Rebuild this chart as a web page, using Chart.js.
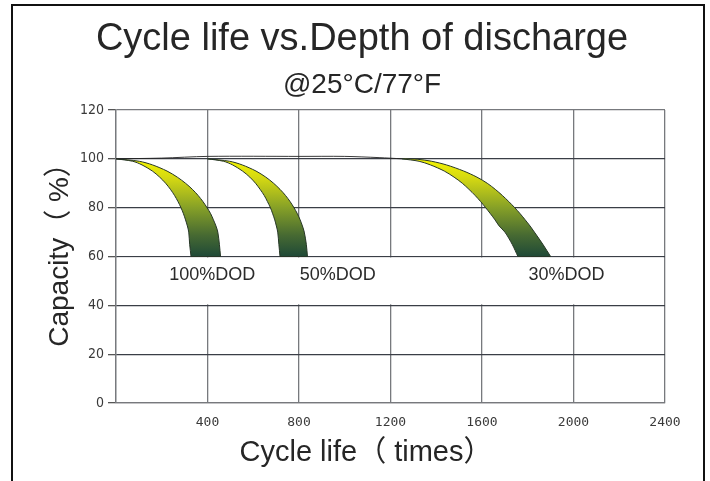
<!DOCTYPE html>
<html><head><meta charset="utf-8">
<script src="https://cdn.jsdelivr.net/npm/chart.js@4.4.1/dist/chart.umd.min.js"></script>
<style>html,body{margin:0;padding:0;background:#fff;}#wrap{width:710px;height:481px;position:relative;}</style>
</head><body><div id="wrap"><canvas id="c" width="710" height="481"></canvas></div>
<script>
// ---- text ----
const titleText = "Cycle life vs.Depth of discharge";
const subtitleText = "@25°C/77°F";
const xAxisTitle = "Cycle life（ times）";
const yAxisTitle = "Capacity（ %）";

// ---- axes ----
const xTickValues = [0, 400, 800, 1200, 1600, 2000, 2400];
const yTickValues = [0, 20, 40, 60, 80, 100, 120];

// ---- band outlines (closed shapes: inner edge top->bottom, then outer edge bottom->top) ----
const dod100Cycles   = [0, 73, 114, 159, 191, 217, 238, 256, 271, 284, 295, 304, 312, 318, 322, 328, 328,
                        392,
                        457, 457, 452, 445, 437, 426, 414, 398, 380, 359, 334, 304, 268, 223, 160, 102, 0];
const dod100Capacity = [100, 99, 97.5, 95, 92.5, 90, 87.5, 85, 82.5, 80, 77.5, 75, 72.5, 70, 65, 60, 60,
                        60,
                        60, 60, 65, 70, 72.5, 75, 77.5, 80, 82.5, 85, 87.5, 90, 92.5, 95, 97.5, 99, 100];

const dod50Cycles    = [400, 470, 510, 553, 585, 610, 630, 648, 662, 675, 685, 694, 701, 707, 712, 717, 717,
                        777,
                        837, 837, 832, 823, 815, 805, 793, 778, 761, 741, 717, 689, 655, 612, 552, 497, 400];
const dod50Capacity  = [100, 99, 97.5, 95, 92.5, 90, 87.5, 85, 82.5, 80, 77.5, 75, 72.5, 70, 65, 60, 60,
                        60,
                        60, 60, 65, 70, 72.5, 75, 77.5, 80, 82.5, 85, 87.5, 90, 92.5, 95, 97.5, 99, 100];

const dod30Cycles    = [1250, 1325, 1375, 1435, 1478, 1514, 1543, 1570, 1594, 1616, 1637, 1657, 1675, 1700, 1732, 1757, 1757,
                        1828,
                        1900, 1900, 1866, 1829, 1810, 1789, 1767, 1743, 1717, 1689, 1658, 1623, 1578, 1520, 1445, 1380, 1320, 1250];
const dod30Capacity  = [100, 99, 97.5, 95, 92.5, 90, 87.5, 85, 82.5, 80, 77.5, 75, 72.5, 70, 65, 60, 60,
                        60,
                        60, 60, 65, 70, 72.5, 75, 77.5, 80, 82.5, 85, 87.5, 90, 92.5, 95, 97.5, 99, 99.8, 100];

// thin initial-capacity line along the top
const topLineCycles   = [0, 200, 400, 800, 1000, 1150, 1250];
const topLineCapacity = [100, 100.3, 101, 101, 101, 100.5, 100];

// band labels
const bandLabels        = ["100%DOD", "50%DOD", "30%DOD"];
const bandLabelCycles   = [421, 969, 1969];
const bandLabelCapacity = [52.5, 52.5, 52.5];

function pts(xs, ys) { return xs.map((x, i) => ({x: x, y: ys[i]})); }

function bandGradient(context) {
  const chart = context.chart;
  const area = chart.chartArea;
  if (!area) return '#8da225';
  const y = chart.scales.y;
  const g = chart.ctx.createLinearGradient(0, y.getPixelForValue(100), 0, y.getPixelForValue(60));
  g.addColorStop(0, '#f5f500');
  g.addColorStop(0.2, '#d4d812');
  g.addColorStop(0.5, '#86a027');
  g.addColorStop(0.78, '#476a32');
  g.addColorStop(1, '#1f4937');
  return g;
}

function bandDataset(xs, ys) {
  return {
    data: pts(xs, ys),
    fill: 'shape',
    backgroundColor: bandGradient,
    borderColor: '#263626',
    borderWidth: 1,
    pointRadius: 0,
    tension: 0.3,
    order: 1
  };
}

const framePlugin = {
  id: 'frame',
  beforeDatasetsDraw(chart) {
    // break in the vertical grid lines between 40% and 60% (label band)
    const {ctx, chartArea, scales} = chart;
    const y60 = scales.y.getPixelForValue(60);
    const y40 = scales.y.getPixelForValue(40);
    ctx.save();
    ctx.fillStyle = '#ffffff';
    ctx.fillRect(chartArea.left + 1.5, y60 + 1, chartArea.right - chartArea.left - 3, y40 - y60 - 2);
    ctx.restore();
  },
  afterDatasetsDraw(chart) {
    const {ctx, scales} = chart;
    ctx.save();
    ctx.fillStyle = '#2b2b2b';
    ctx.font = '18px "Liberation Sans", Arial, sans-serif';
    ctx.textAlign = 'center';
    ctx.textBaseline = 'middle';
    bandLabels.forEach((t, i) => {
      ctx.fillText(t, scales.x.getPixelForValue(bandLabelCycles[i]), scales.y.getPixelForValue(bandLabelCapacity[i]));
    });
    ctx.restore();
  },
  afterDraw(chart) {
    const ctx = chart.ctx;
    ctx.save();
    // outer frame
    ctx.strokeStyle = '#111';
    ctx.lineWidth = 2;
    ctx.beginPath();
    ctx.moveTo(12, 481); ctx.lineTo(12, 5); ctx.lineTo(704, 5); ctx.lineTo(704, 481);
    ctx.stroke();
    // titles
    ctx.fillStyle = '#262626';
    ctx.textAlign = 'center';
    ctx.textBaseline = 'alphabetic';
    ctx.font = '38px "Liberation Sans", Arial, "Noto Sans CJK SC", sans-serif';
    ctx.fillText(titleText, 362, 50);
    ctx.font = '28px "Liberation Sans", Arial, "Noto Sans CJK SC", sans-serif';
    ctx.fillText(subtitleText, 362, 93);
    ctx.font = '29px "Liberation Sans", Arial, "Noto Sans CJK SC", sans-serif';
    ctx.fillText(xAxisTitle, 366, 461);
    ctx.font = '28px "Liberation Sans", Arial, "Noto Sans CJK SC", sans-serif';
    ctx.translate(68, 248);
    ctx.rotate(-Math.PI / 2);
    ctx.fillText(yAxisTitle, 0, 0);
    ctx.restore();
  }
};

const gridGray = '#77797d';
const gridDark = '#3a3e46';

new Chart(document.getElementById('c'), {
  type: 'line',
  data: {
    datasets: [
      bandDataset(dod100Cycles, dod100Capacity),
      bandDataset(dod50Cycles, dod50Capacity),
      bandDataset(dod30Cycles, dod30Capacity),
      {
        data: pts(topLineCycles, topLineCapacity),
        fill: false,
        borderColor: '#222',
        borderWidth: 0.9,
        pointRadius: 0,
        tension: 0.3,
        order: 0
      }
    ]
  },
  options: {
    responsive: false,
    animation: false,
    events: [],
    layout: { padding: { left: 0, right: 45, top: 110, bottom: 0 } },
    plugins: { legend: { display: false }, tooltip: { enabled: false }, title: { display: false } },
    scales: {
      x: {
        type: 'linear',
        min: xTickValues[0],
        max: xTickValues[xTickValues.length - 1],
        afterBuildTicks(scale) { scale.ticks = xTickValues.map(v => ({value: v})); },
        afterFit(scale) { scale.height = 78; },
        grid: { color: gridGray, lineWidth: 1.3, drawTicks: false },
        border: { color: gridGray, width: 1.3 },
        ticks: {
          padding: 12,
          color: '#3a3a3a',
          font: { family: '"DejaVu Sans Mono", monospace', size: 13 },
          callback: v => (v === 0 ? '' : String(v)),
          maxRotation: 0,
          autoSkip: false
        }
      },
      y: {
        min: yTickValues[0],
        max: yTickValues[yTickValues.length - 1],
        afterBuildTicks(scale) { scale.ticks = yTickValues.map(v => ({value: v})); },
        afterFit(scale) { scale.width = 116; },
        grid: {
          color: c => (c.tick && (c.tick.value === 0 || c.tick.value === 120) ? gridGray : gridDark),
          lineWidth: 1.3,
          drawTicks: true,
          tickLength: 8,
          tickColor: '#555'
        },
        border: { color: gridGray, width: 1.3 },
        ticks: {
          padding: 4,
          color: '#3a3a3a',
          font: { family: '"Liberation Sans Narrow", "DejaVu Sans Condensed", "Liberation Sans", sans-serif', size: 14 },
          autoSkip: false
        }
      }
    }
  },
  plugins: [framePlugin]
});
</script>
</body></html>
